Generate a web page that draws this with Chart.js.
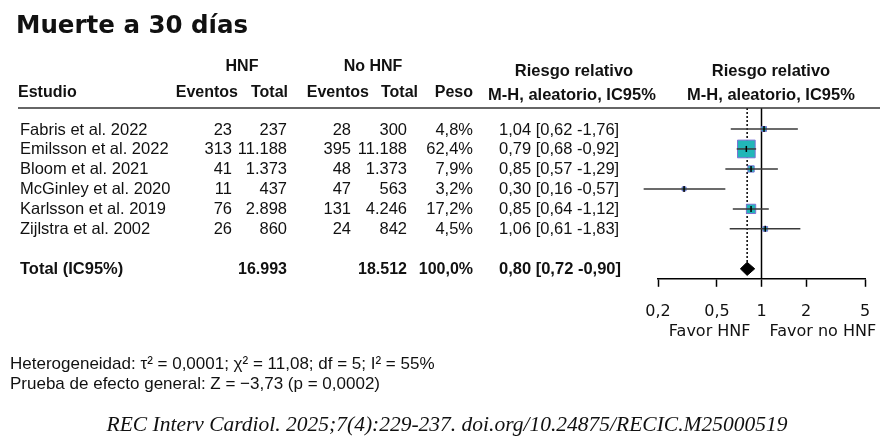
<!DOCTYPE html>
<html lang="es">
<head>
<meta charset="utf-8">
<title>Muerte a 30 días</title>
<script src="https://cdn.jsdelivr.net/npm/chart.js@4.4.1/dist/chart.umd.min.js"></script>
<style>
  html, body { margin: 0; padding: 0; background: #fff; }
  #wrap { width: 893px; height: 448px; }
</style>
</head>
<body>
<div id="wrap"><canvas id="forest" width="893" height="448"></canvas></div>
<script>
// datos
const studies = ['Fabris et al. 2022', 'Emilsson et al. 2022', 'Bloom et al. 2021',
  'McGinley et al. 2020', 'Karlsson et al. 2019', 'Zijlstra et al. 2002'];
const hnfEvents = [23, 313, 41, 11, 76, 26];
const hnfTotal = [237, 11188, 1373, 437, 2898, 860];
const noHnfEvents = [28, 395, 48, 47, 131, 24];
const noHnfTotal = [300, 11188, 1373, 563, 4246, 842];
const weights = [4.8, 62.4, 7.9, 3.2, 17.2, 4.5];
const rr = [1.04, 0.79, 0.85, 0.30, 0.85, 1.06];
const rrLow = [0.62, 0.68, 0.57, 0.16, 0.64, 0.61];
const rrHigh = [1.76, 0.92, 1.29, 0.57, 1.12, 1.83];

const totalHnf = 16993;
const totalNoHnf = 18512;
const totalWeight = 100.0;
const pooled = [0.80, 0.72, 0.90]; // RR, IC inferior, IC superior

const xTicks = [0.2, 0.5, 1, 2, 5];

const title = 'Muerte a 30 días';
const footer1 = 'Heterogeneidad: τ² = 0,0001; χ² = 11,08; df = 5; I² = 55%';
const footer2 = 'Prueba de efecto general: Z = −3,73 (p = 0,0002)';
const citation = 'REC Interv Cardiol. 2025;7(4):229-237. doi.org/10.24875/RECIC.M25000519';

const TOTAL_ROW = 7;
const SANS = '"Liberation Sans", Arial, sans-serif';
const VERD = '"DejaVu Sans", Verdana, sans-serif';

const dec = (v, n) => v.toFixed(n).replace('.', ',');
const thousands = v => String(v).replace(/\B(?=(\d{3})+(?!\d))/g, '.');
const ciText = (m, lo, hi) => dec(m, 2) + ' [' + dec(lo, 2) + ' -' + dec(hi, 2) + ']';

// lineas de IC, una por estudio
const ciSets = studies.map((s, i) => ({
  label: s,
  data: [{ x: rrLow[i], y: i }, { x: rrHigh[i], y: i }],
  showLine: true,
  borderColor: '#3a3a3a',
  borderWidth: 1.5,
  pointRadius: 0,
  clip: false,
  order: 2
}));

const datasets = [
  {
    label: 'linea nula',
    data: [{ x: 1, y: -1.05 }, { x: 1, y: 7.5 }],
    showLine: true, borderColor: '#000', borderWidth: 1.5, pointRadius: 0, order: 6
  },
  {
    label: 'efecto global',
    data: [{ x: pooled[0], y: -1.05 }, { x: pooled[0], y: TOTAL_ROW - 0.33 }],
    showLine: true, borderColor: '#000', borderWidth: 1.5, borderDash: [2, 2],
    pointRadius: 0, order: 5
  },
  {
    label: 'diamante',
    data: [
      { x: pooled[1], y: TOTAL_ROW }, { x: pooled[0], y: TOTAL_ROW - 0.33 },
      { x: pooled[2], y: TOTAL_ROW }, { x: pooled[0], y: TOTAL_ROW + 0.33 },
      { x: pooled[1], y: TOTAL_ROW }
    ],
    showLine: true, fill: 'shape', backgroundColor: '#000', borderColor: '#000',
    borderWidth: 1, pointRadius: 0, tension: 0, order: 4
  },
  {
    label: 'pesos',
    data: rr.map((v, i) => ({ x: v, y: i })),
    pointStyle: 'rect',
    // lado del cuadrado proporcional a la raiz del peso
    pointRadius: ctx => 12.5 * Math.sqrt(weights[ctx.dataIndex] / weights[1]),
    backgroundColor: '#22b6b8',
    borderColor: '#7b74d4',
    borderWidth: 1,
    clip: false,
    order: 3
  },
  ...ciSets,
  {
    label: 'centros',
    data: rr.map((v, i) => ({ x: v, y: i })),
    pointStyle: 'line', rotation: 90, pointRadius: 3,
    borderColor: '#000', borderWidth: 1.5, clip: false, order: 1
  }
];

const tablePlugin = {
  id: 'tableText',
  afterDraw(chart) {
    const { ctx, chartArea } = chart;
    const x = chart.scales.x;
    const y = chart.scales.y;
    ctx.save();
    ctx.fillStyle = '#111';

    ctx.font = 'bold 24.5px ' + VERD;
    ctx.textAlign = 'left';
    ctx.textBaseline = 'alphabetic';
    ctx.fillText(title, 16, 33);

    // separador de cabecera
    ctx.strokeStyle = '#333';
    ctx.lineWidth = 1.5;
    ctx.beginPath();
    ctx.moveTo(18, chartArea.top);
    ctx.lineTo(880, chartArea.top);
    ctx.stroke();

    ctx.textBaseline = 'middle';
    ctx.font = 'bold 16px ' + SANS;
    ctx.textAlign = 'center';
    ctx.fillText('HNF', 242, 67);
    ctx.fillText('No HNF', 373, 67);
    ctx.font = 'bold 16.5px ' + SANS;
    ctx.fillText('Riesgo relativo', 574, 71);
    ctx.fillText('M-H, aleatorio, IC95%', 572, 95);
    ctx.fillText('Riesgo relativo', 771, 71);
    ctx.fillText('M-H, aleatorio, IC95%', 771, 95);

    ctx.font = 'bold 16px ' + SANS;
    ctx.textAlign = 'left';
    ctx.fillText('Estudio', 18, 93);
    ctx.textAlign = 'right';
    ctx.fillText('Eventos', 238, 93);
    ctx.fillText('Total', 288, 93);
    ctx.fillText('Eventos', 369, 93);
    ctx.fillText('Total', 418, 93);
    ctx.fillText('Peso', 473, 93);

    ctx.font = '16.5px ' + SANS;
    studies.forEach((s, i) => {
      const py = y.getPixelForValue(i) + 1;
      ctx.textAlign = 'left';
      ctx.fillText(s, 20, py);
      ctx.fillText(ciText(rr[i], rrLow[i], rrHigh[i]), 499, py);
      ctx.textAlign = 'right';
      ctx.fillText(String(hnfEvents[i]), 232, py);
      ctx.fillText(thousands(hnfTotal[i]), 287, py);
      ctx.fillText(String(noHnfEvents[i]), 351, py);
      ctx.fillText(thousands(noHnfTotal[i]), 407, py);
      ctx.fillText(dec(weights[i], 1) + '%', 473, py);
    });

    const ty = y.getPixelForValue(TOTAL_ROW) + 1;
    ctx.font = 'bold 16.5px ' + SANS;
    ctx.textAlign = 'left';
    ctx.fillText('Total (IC95%)', 20, ty);
    ctx.fillText(ciText(pooled[0], pooled[1], pooled[2]), 499, ty);
    ctx.font = 'bold 16px ' + SANS;
    ctx.textAlign = 'right';
    ctx.fillText(thousands(totalHnf), 287, ty);
    ctx.fillText(thousands(totalNoHnf), 407, ty);
    ctx.fillText(dec(totalWeight, 1) + '%', 473, ty);

    // etiquetas bajo el eje
    const x1 = x.getPixelForValue(1);
    ctx.font = '16px ' + VERD;
    ctx.textAlign = 'right';
    ctx.fillText('Favor HNF', x1 - 11, 332);
    ctx.textAlign = 'left';
    ctx.fillText('Favor no HNF', x1 + 8, 332);

    ctx.font = '17px ' + SANS;
    ctx.fillText(footer1, 10, 364);
    ctx.fillText(footer2, 10, 384);

    ctx.font = 'italic 21.5px "Liberation Serif", "Times New Roman", serif';
    ctx.textAlign = 'center';
    ctx.fillText(citation, 447, 425);
    ctx.restore();
  }
};

new Chart(document.getElementById('forest'), {
  type: 'scatter',
  data: { datasets },
  options: {
    responsive: false,
    animation: false,
    events: [],
    layout: { padding: { left: 658, right: 28, top: 108, bottom: 112 } },
    plugins: { legend: { display: false }, tooltip: { enabled: false } },
    scales: {
      x: {
        type: 'logarithmic',
        position: 'bottom',
        min: xTicks[0],
        max: xTicks[xTicks.length - 1],
        afterBuildTicks: scale => { scale.ticks = xTicks.map(v => ({ value: v })); },
        ticks: {
          autoSkip: false,
          maxRotation: 0,
          padding: 15,
          color: '#111',
          font: { family: VERD, size: 16 },
          callback: v => String(v).replace('.', ',')
        },
        grid: { drawOnChartArea: false, drawTicks: true, tickLength: 8, tickColor: '#000', tickWidth: 1.5 },
        border: { display: true, color: '#000', width: 1.5 }
      },
      y: { type: 'linear', min: -1.05, max: 7.5, reverse: true, display: false }
    }
  },
  plugins: [tablePlugin]
});
</script>
</body>
</html>
